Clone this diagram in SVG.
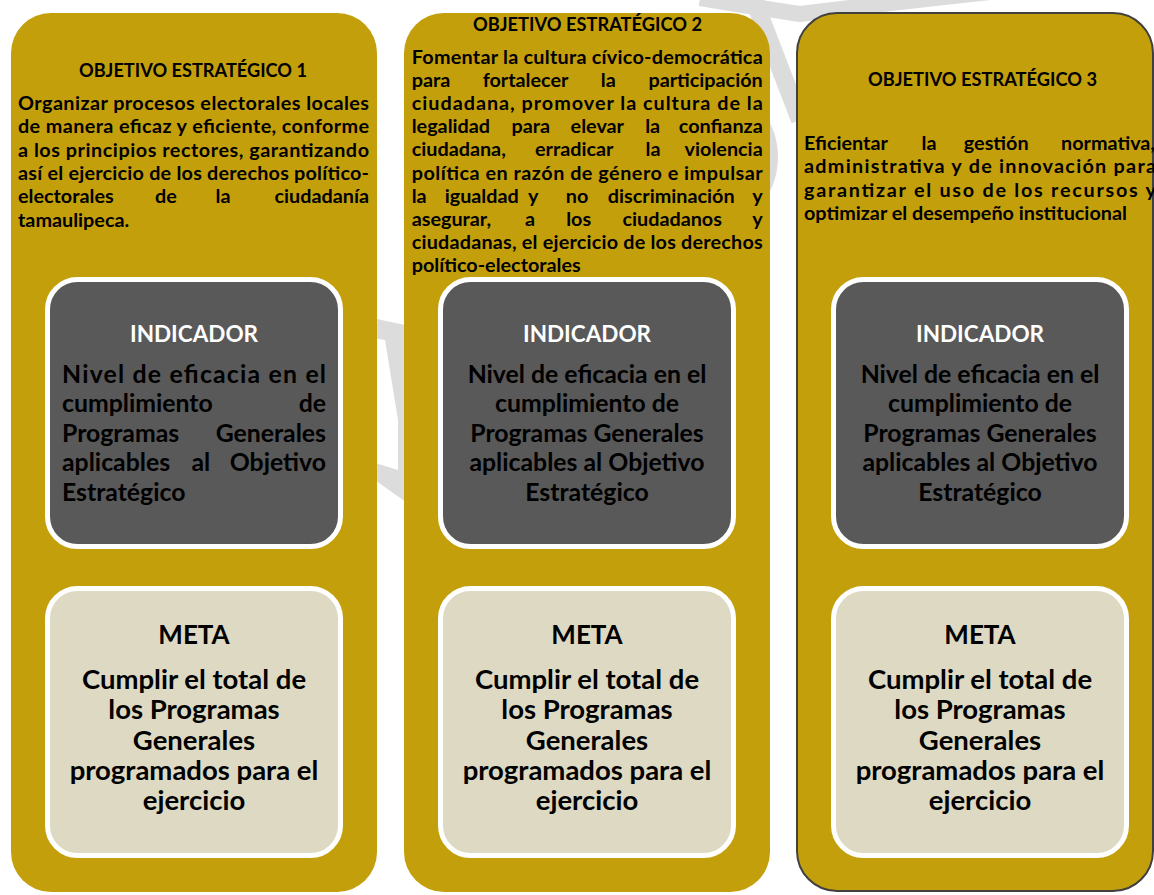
<svg xmlns="http://www.w3.org/2000/svg" width="1154" height="895" viewBox="0 0 1154 895">
<style>
text { font-family: Lato, "Open Sans", "Liberation Sans", sans-serif; font-weight: 700; fill: #000; }
.col { fill: #C49F0C; }
.col3 { stroke: #404040; stroke-width: 2; }
.ind { fill: #595959; stroke: #FFFFFF; stroke-width: 5; }
.meta { fill: #DDD9C3; stroke: #FFFFFF; stroke-width: 5; }
.wm { fill: none; stroke: #DCDCDC; }
.t { font-size: 19.5px; }
.b { font-size: 19.8px; }
.ih { font-size: 22.5px; fill: #FFFFFF; }
.ib { font-size: 24.8px; fill: #FFFFFF; }
.mh { font-size: 26px; }
.mb { font-size: 27.5px; }
.m { text-anchor: middle; }
.e { text-anchor: end; }
</style>
<rect width="1154" height="895" fill="#FFFFFF"/>
<g id="watermark">
  <line class="wm" x1="752" y1="-5" x2="800" y2="120" stroke-width="18"/>
  <circle class="wm" cx="700" cy="157" r="74" stroke-width="8"/>
  <path class="wm" d="M700 -2 Q 760 8 800 14 Q 880 4 990 -8" stroke-width="16"/>
  <path d="M372 318 L410 326 L410 505 L372 478 L372 462 L398 470 L398 420 L385 340 L372 338 Z" fill="#DCDCDC"/>
</g>
<g id="connectors"></g>
<g id="objetivo1">
  <rect class="col" x="11" y="13" width="366" height="879" rx="40"/>
  <text class="t" x="79" y="77" textLength="228" lengthAdjust="spacingAndGlyphs">OBJETIVO ESTRATÉGICO 1</text>
  <g class="b">
    <text x="18" y="110" textLength="351" lengthAdjust="spacing">Organizar procesos electorales locales</text>
    <text x="18" y="133.3" textLength="351" lengthAdjust="spacing">de manera eficaz y eficiente, conforme</text>
    <text x="18" y="156.7" textLength="351" lengthAdjust="spacing">a los principios rectores, garantizando</text>
    <text x="18" y="180" textLength="351" lengthAdjust="spacing">así el ejercicio de los derechos político-</text>
    <text x="18" y="203.3">electorales</text>
    <text class="m" x="166" y="203.3">de</text>
    <text class="m" x="223" y="203.3">la</text>
    <text class="e" x="369" y="203.3">ciudadanía</text>
    <text x="18" y="226.7">tamaulipeca.</text>
  </g>
</g>
<g id="indicador1">
  <rect class="ind" x="47.5" y="279.5" width="293" height="267" rx="30"/>
  <text class="ih m" x="194" y="342">INDICADOR</text>
  <g class="ib">
    <text x="62" y="382.5" textLength="264" lengthAdjust="spacing">Nivel de eficacia en el</text>
    <text x="62" y="412">cumplimiento</text>
    <text class="e" x="326" y="412">de</text>
    <text x="62" y="441.5">Programas</text>
    <text class="e" x="326" y="441.5">Generales</text>
    <text x="62" y="471">aplicables</text>
    <text class="m" x="200.8" y="471">al</text>
    <text class="e" x="326" y="471">Objetivo</text>
    <text x="62" y="500.5">Estratégico</text>
  </g>
</g>
<g id="meta1">
  <rect class="meta" x="47.5" y="588.5" width="293" height="267" rx="30"/>
  <text class="mh m" x="194" y="643.5">META</text>
  <g class="mb m">
    <text x="194" y="688.5">Cumplir el total de</text>
    <text x="194" y="719">los Programas</text>
    <text x="194" y="749.5">Generales</text>
    <text x="194" y="780">programados para el</text>
    <text x="194" y="810">ejercicio</text>
  </g>
</g>
<g id="objetivo2">
  <rect class="col" x="404" y="13" width="366" height="879" rx="40"/>
  <text class="t" x="473" y="31" textLength="229" lengthAdjust="spacingAndGlyphs">OBJETIVO ESTRATÉGICO 2</text>
  <g class="b">
    <text x="411.7" y="63.5" textLength="351" lengthAdjust="spacing">Fomentar la cultura cívico-democrática</text>
    <text x="411.7" y="86.7">para</text>
    <text class="m" x="525.5" y="86.7">fortalecer</text>
    <text class="m" x="608.3" y="86.7">la</text>
    <text class="e" x="762.7" y="86.7">participación</text>
    <text x="411.7" y="109.9" textLength="351" lengthAdjust="spacing">ciudadana, promover la cultura de la</text>
    <text x="411.7" y="133.1">legalidad</text>
    <text class="m" x="530.8" y="133.1">para</text>
    <text class="m" x="597.3" y="133.1">elevar</text>
    <text class="m" x="652.7" y="133.1">la</text>
    <text class="e" x="762.7" y="133.1">confianza</text>
    <text x="411.7" y="156.3">ciudadana,</text>
    <text class="m" x="574.2" y="156.3">erradicar</text>
    <text class="m" x="653" y="156.3">la</text>
    <text class="e" x="762.7" y="156.3">violencia</text>
    <text x="411.7" y="179.5" textLength="351" lengthAdjust="spacing">política en razón de género e impulsar</text>
    <text x="411.7" y="202.7">la</text>
    <text class="m" x="481.7" y="202.7">igualdad</text>
    <text class="m" x="533.3" y="202.7">y</text>
    <text class="m" x="577" y="202.7">no</text>
    <text class="m" x="671.2" y="202.7">discriminación</text>
    <text class="e" x="762.7" y="202.7">y</text>
    <text x="411.7" y="225.9">asegurar,</text>
    <text class="m" x="530" y="225.9">a</text>
    <text class="m" x="578.7" y="225.9">los</text>
    <text class="m" x="672.2" y="225.9">ciudadanos</text>
    <text class="e" x="762.7" y="225.9">y</text>
    <text x="411.7" y="249.1" textLength="351" lengthAdjust="spacing">ciudadanas, el ejercicio de los derechos</text>
    <text x="411.7" y="272.3">político-electorales</text>
  </g>
</g>
<g id="indicador2">
  <rect class="ind" x="440.5" y="279.5" width="293" height="267" rx="30"/>
  <text class="ih m" x="587" y="342">INDICADOR</text>
  <g class="ib m">
    <text x="587" y="382.5">Nivel de eficacia en el</text>
    <text x="587" y="412">cumplimiento de</text>
    <text x="587" y="441.5">Programas Generales</text>
    <text x="587" y="471">aplicables al Objetivo</text>
    <text x="587" y="500.5">Estratégico</text>
  </g>
</g>
<g id="meta2">
  <rect class="meta" x="440.5" y="588.5" width="293" height="267" rx="30"/>
  <text class="mh m" x="587" y="643.5">META</text>
  <g class="mb m">
    <text x="587" y="688.5">Cumplir el total de</text>
    <text x="587" y="719">los Programas</text>
    <text x="587" y="749.5">Generales</text>
    <text x="587" y="780">programados para el</text>
    <text x="587" y="810">ejercicio</text>
  </g>
</g>
<g id="objetivo3">
  <rect class="col col3" x="797" y="13" width="356" height="878" rx="40"/>
  <text class="t" x="868" y="86" textLength="229" lengthAdjust="spacingAndGlyphs">OBJETIVO ESTRATÉGICO 3</text>
  <g class="b">
    <text x="804" y="150">Eficientar</text>
    <text class="m" x="929" y="150">la</text>
    <text class="m" x="996.2" y="150">gestión</text>
    <text class="e" x="1155" y="150">normativa,</text>
    <text x="804" y="173.3" textLength="352" lengthAdjust="spacing">administrativa y de innovación para</text>
    <text x="804" y="196.7" textLength="352" lengthAdjust="spacing">garantizar el uso de los recursos y</text>
    <text x="804" y="220">optimizar el desempeño institucional</text>
  </g>
</g>
<g id="indicador3">
  <rect class="ind" x="833.5" y="279.5" width="293" height="267" rx="30"/>
  <text class="ih m" x="980" y="342">INDICADOR</text>
  <g class="ib m">
    <text x="980" y="382.5">Nivel de eficacia en el</text>
    <text x="980" y="412">cumplimiento de</text>
    <text x="980" y="441.5">Programas Generales</text>
    <text x="980" y="471">aplicables al Objetivo</text>
    <text x="980" y="500.5">Estratégico</text>
  </g>
</g>
<g id="meta3">
  <rect class="meta" x="833.5" y="588.5" width="293" height="267" rx="30"/>
  <text class="mh m" x="980" y="643.5">META</text>
  <g class="mb m">
    <text x="980" y="688.5">Cumplir el total de</text>
    <text x="980" y="719">los Programas</text>
    <text x="980" y="749.5">Generales</text>
    <text x="980" y="780">programados para el</text>
    <text x="980" y="810">ejercicio</text>
  </g>
</g>
</svg>
